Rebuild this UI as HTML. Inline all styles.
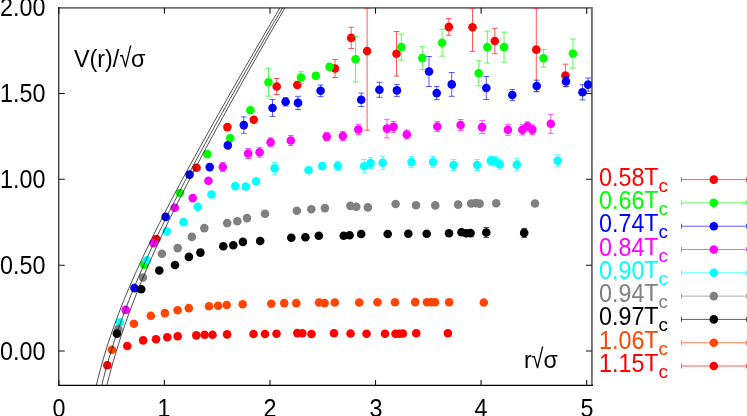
<!DOCTYPE html>
<html><head><meta charset="utf-8"><title>V(r)</title>
<style>
html,body{margin:0;padding:0;background:#fff;}
body{width:747px;height:416px;overflow:hidden;position:relative;font-family:"Liberation Sans",sans-serif;}
svg{position:absolute;left:0;top:0;}
.t{will-change:transform;position:absolute;white-space:nowrap;font-size:23.3px;line-height:1;color:#000;}
.rt{display:inline-block;transform:scale(0.93,1.17);transform-origin:50% 84.6%;margin:0 -0.7px 0 -0.5px;}
.d{display:inline-block;transform:scaleY(1.08);transform-origin:0 2.5px;}
.t sub{font-size:18.9px;vertical-align:baseline;position:relative;top:6.8px;line-height:0;}
</style></head><body>
<svg width="747" height="416" viewBox="0 0 747 416">
<defs><clipPath id="pc"><rect x="58.78" y="7.85" width="533.12" height="377.55"/></clipPath></defs>
<g fill="none" stroke-linecap="butt">
<path d="M58.18 7.85 H591.9 V386" stroke="#707070" stroke-width="1.9"/>
<path d="M58.78 6.95 V386" stroke="#000" stroke-width="1.05"/><path d="M58.28 385.4 H592.85" stroke="#000" stroke-width="1.25"/>
<path d="M58.8 385.4 v-5.4 M58.8 7.85 v5.8 M164.4 385.4 v-5.4 M164.4 7.85 v5.8 M270.0 385.4 v-5.4 M270.0 7.85 v5.8 M375.5 385.4 v-5.4 M375.5 7.85 v5.8 M481.1 385.4 v-5.4 M481.1 7.85 v5.8 M586.7 385.4 v-5.4 M586.7 7.85 v5.8 M58.78 351.0 h6 M591.9 351.0 h-6 M58.78 265.2 h6 M591.9 265.2 h-6 M58.78 179.3 h6 M591.9 179.3 h-6 M58.78 93.5 h6 M591.9 93.5 h-6" stroke="#111" stroke-width="1.1"/>
</g>
<g clip-path="url(#pc)">
<g fill="#ff0000" stroke="none"><path d="M276.7 78.5V94.5M273.8 78.5h5.8M273.8 94.5h5.8M297.3 82.5V87.5M294.4 82.5h5.8M294.4 87.5h5.8M335.0 59.5V77.5M332.1 59.5h5.8M332.1 77.5h5.8M351.2 27.3V48.5M348.3 27.3h5.8M348.3 48.5h5.8M367.1 8.2V130.2M364.2 8.2h5.8M364.2 130.2h5.8M396.5 31.5V76.1M393.6 31.5h5.8M393.6 76.1h5.8M448.8 18.6V35.2M445.9 18.6h5.8M445.9 35.2h5.8M472.5 8.2V51.3M469.6 8.2h5.8M469.6 51.3h5.8M494.8 28.3V53.7M491.9 28.3h5.8M491.9 53.7h5.8M536.3 8.2V91.3M533.4 8.2h5.8M533.4 91.3h5.8M565.4 64.2V86.8M562.5 64.2h5.8M562.5 86.8h5.8" fill="none" stroke="#ff0000" stroke-width="0.65"/><circle cx="156.3" cy="239.0" r="4.3"/><circle cx="196.5" cy="167.7" r="4.3"/><circle cx="227.4" cy="127.1" r="4.3"/><circle cx="253.8" cy="119.8" r="4.3"/><circle cx="276.7" cy="86.5" r="4.3"/><circle cx="297.3" cy="85.0" r="4.3"/><circle cx="335.0" cy="68.5" r="4.3"/><circle cx="351.2" cy="37.9" r="4.3"/><circle cx="367.1" cy="51.0" r="4.3"/><circle cx="396.5" cy="53.8" r="4.3"/><circle cx="448.8" cy="26.9" r="4.3"/><circle cx="472.5" cy="27.3" r="4.3"/><circle cx="494.8" cy="41.0" r="4.3"/><circle cx="536.3" cy="49.6" r="4.3"/><circle cx="565.4" cy="75.5" r="4.3"/></g>
<g fill="#00ff00" stroke="none"><path d="M268.5 68.2V96.2M265.6 68.2h5.8M265.6 96.2h5.8M301.0 71.7V83.5M298.1 71.7h5.8M298.1 83.5h5.8M315.8 72.8V78.8M312.9 72.8h5.8M312.9 78.8h5.8M329.6 63.9V69.9M326.7 63.9h5.8M326.7 69.9h5.8M355.6 36.4V82.0M352.7 36.4h5.8M352.7 82.0h5.8M401.3 34.1V60.1M398.4 34.1h5.8M398.4 60.1h5.8M422.3 46.8V69.4M419.4 46.8h5.8M419.4 69.4h5.8M442.1 29.2V56.2M439.2 29.2h5.8M439.2 56.2h5.8M478.7 60.8V85.8M475.8 60.8h5.8M475.8 85.8h5.8M487.3 31.1V63.1M484.4 31.1h5.8M484.4 63.1h5.8M504.0 32.1V62.1M501.1 32.1h5.8M501.1 62.1h5.8M543.5 49.6V67.0M540.6 49.6h5.8M540.6 67.0h5.8M572.9 39.0V68.0M570.0 39.0h5.8M570.0 68.0h5.8" fill="none" stroke="#00ff00" stroke-width="0.65"/><circle cx="144.2" cy="264.6" r="4.3"/><circle cx="179.9" cy="193.0" r="4.3"/><circle cx="207.3" cy="154.1" r="4.3"/><circle cx="230.2" cy="138.3" r="4.3"/><circle cx="250.4" cy="110.2" r="4.3"/><circle cx="268.5" cy="82.2" r="4.3"/><circle cx="301.0" cy="77.6" r="4.3"/><circle cx="315.8" cy="75.8" r="4.3"/><circle cx="329.6" cy="66.9" r="4.3"/><circle cx="355.6" cy="59.2" r="4.3"/><circle cx="401.3" cy="47.1" r="4.3"/><circle cx="422.3" cy="58.1" r="4.3"/><circle cx="442.1" cy="42.7" r="4.3"/><circle cx="478.7" cy="73.3" r="4.3"/><circle cx="487.3" cy="47.1" r="4.3"/><circle cx="504.0" cy="47.1" r="4.3"/><circle cx="543.5" cy="58.3" r="4.3"/><circle cx="572.9" cy="53.5" r="4.3"/></g>
<g fill="#0000ff" stroke="none"><path d="M243.8 116.9V133.3M240.9 116.9h5.8M240.9 133.3h5.8M272.5 99.6V116.4M269.6 99.6h5.8M269.6 116.4h5.8M285.6 97.6V106.0M282.7 97.6h5.8M282.7 106.0h5.8M298.0 96.3V109.5M295.1 96.3h5.8M295.1 109.5h5.8M320.6 85.0V96.6M317.7 85.0h5.8M317.7 96.6h5.8M361.2 93.1V106.5M358.3 93.1h5.8M358.3 106.5h5.8M379.4 82.3V97.3M376.5 82.3h5.8M376.5 97.3h5.8M396.9 84.4V96.4M394.0 84.4h5.8M394.0 96.4h5.8M429.0 56.5V86.5M426.1 56.5h5.8M426.1 86.5h5.8M436.7 86.6V99.6M433.8 86.6h5.8M433.8 99.6h5.8M451.7 72.5V96.3M448.8 72.5h5.8M448.8 96.3h5.8M486.3 76.5V99.5M483.4 76.5h5.8M483.4 99.5h5.8M512.3 89.4V100.6M509.4 89.4h5.8M509.4 100.6h5.8M536.7 80.2V91.8M533.8 80.2h5.8M533.8 91.8h5.8M566.0 76.5V86.5M563.1 76.5h5.8M563.1 86.5h5.8M582.5 84.7V99.9M579.6 84.7h5.8M579.6 99.9h5.8M588.1 78.0V91.2M585.2 78.0h5.8M585.2 91.2h5.8" fill="none" stroke="#0000ff" stroke-width="0.65"/><circle cx="134.4" cy="288.1" r="4.3"/><circle cx="165.6" cy="216.9" r="4.3"/><circle cx="189.6" cy="174.6" r="4.3"/><circle cx="209.7" cy="167.1" r="4.3"/><circle cx="227.8" cy="145.4" r="4.3"/><circle cx="243.8" cy="125.1" r="4.3"/><circle cx="272.5" cy="108.0" r="4.3"/><circle cx="285.6" cy="101.8" r="4.3"/><circle cx="298.0" cy="102.9" r="4.3"/><circle cx="320.6" cy="90.8" r="4.3"/><circle cx="361.2" cy="99.8" r="4.3"/><circle cx="379.4" cy="89.8" r="4.3"/><circle cx="396.9" cy="90.4" r="4.3"/><circle cx="429.0" cy="71.5" r="4.3"/><circle cx="436.7" cy="93.1" r="4.3"/><circle cx="451.7" cy="84.4" r="4.3"/><circle cx="486.3" cy="88.0" r="4.3"/><circle cx="512.3" cy="95.0" r="4.3"/><circle cx="536.7" cy="86.0" r="4.3"/><circle cx="566.0" cy="81.5" r="4.3"/><circle cx="582.5" cy="92.3" r="4.3"/><circle cx="588.1" cy="84.6" r="4.3"/></g>
<g fill="#ff00ff" stroke="none"><path d="M222.8 162.5V171.5M219.9 162.5h5.8M219.9 171.5h5.8M248.1 148.5V158.5M245.2 148.5h5.8M245.2 158.5h5.8M259.6 147.3V157.3M256.7 147.3h5.8M256.7 157.3h5.8M270.6 137.8V146.8M267.7 137.8h5.8M267.7 146.8h5.8M290.8 135.5V145.5M287.9 135.5h5.8M287.9 145.5h5.8M326.7 132.6V140.6M323.8 132.6h5.8M323.8 140.6h5.8M342.8 131.5V140.5M339.9 131.5h5.8M339.9 140.5h5.8M358.3 124.3V134.7M355.4 124.3h5.8M355.4 134.7h5.8M386.9 119.3V137.9M384.0 119.3h5.8M384.0 137.9h5.8M393.5 121.4V132.4M390.6 121.4h5.8M390.6 132.4h5.8M406.8 130.0V139.0M403.9 130.0h5.8M403.9 139.0h5.8M437.3 121.5V131.5M434.4 121.5h5.8M434.4 131.5h5.8M460.6 119.5V130.5M457.7 119.5h5.8M457.7 130.5h5.8M482.1 120.6V133.6M479.2 120.6h5.8M479.2 133.6h5.8M507.9 124.3V135.3M505.0 124.3h5.8M505.0 135.3h5.8M522.3 124.8V134.8M519.4 124.8h5.8M519.4 134.8h5.8M527.5 121.8V130.8M524.6 121.8h5.8M524.6 130.8h5.8M532.3 124.8V134.4M529.4 124.8h5.8M529.4 134.4h5.8M550.8 114.3V133.3M547.9 114.3h5.8M547.9 133.3h5.8" fill="none" stroke="#ff00ff" stroke-width="0.65"/><circle cx="125.6" cy="309.9" r="4.3"/><circle cx="153.5" cy="243.1" r="4.3"/><circle cx="174.8" cy="207.7" r="4.3"/><circle cx="192.7" cy="198.1" r="4.3"/><circle cx="208.4" cy="180.7" r="4.3"/><circle cx="222.8" cy="167.0" r="4.3"/><circle cx="248.1" cy="153.5" r="4.3"/><circle cx="259.6" cy="152.3" r="4.3"/><circle cx="270.6" cy="142.3" r="4.3"/><circle cx="290.8" cy="140.5" r="4.3"/><circle cx="326.7" cy="136.6" r="4.3"/><circle cx="342.8" cy="136.0" r="4.3"/><circle cx="358.3" cy="129.5" r="4.3"/><circle cx="386.9" cy="128.6" r="4.3"/><circle cx="393.5" cy="126.9" r="4.3"/><circle cx="406.8" cy="134.5" r="4.3"/><circle cx="437.3" cy="126.5" r="4.3"/><circle cx="460.6" cy="125.0" r="4.3"/><circle cx="482.1" cy="127.1" r="4.3"/><circle cx="507.9" cy="129.8" r="4.3"/><circle cx="522.3" cy="129.8" r="4.3"/><circle cx="527.5" cy="126.3" r="4.3"/><circle cx="532.3" cy="129.6" r="4.3"/><circle cx="550.8" cy="123.8" r="4.3"/></g>
<g fill="#00ffff" stroke="none"><path d="M274.6 162.3V174.3M271.7 162.3h5.8M271.7 174.3h5.8M308.5 167.2V173.2M305.6 167.2h5.8M305.6 173.2h5.8M322.3 163.1V169.1M319.4 163.1h5.8M319.4 169.1h5.8M337.7 161.3V170.7M334.8 161.3h5.8M334.8 170.7h5.8M364.2 159.5V172.9M361.3 159.5h5.8M361.3 172.9h5.8M370.6 157.6V168.6M367.7 157.6h5.8M367.7 168.6h5.8M382.7 156.0V169.4M379.8 156.0h5.8M379.8 169.4h5.8M411.5 156.6V167.6M408.6 156.6h5.8M408.6 167.6h5.8M433.0 156.6V167.6M430.1 156.6h5.8M430.1 167.6h5.8M453.5 159.5V170.5M450.6 159.5h5.8M450.6 170.5h5.8M477.1 159.5V170.5M474.2 159.5h5.8M474.2 170.5h5.8M490.8 156.3V165.3M487.9 156.3h5.8M487.9 165.3h5.8M495.0 156.5V166.1M492.1 156.5h5.8M492.1 166.1h5.8M499.8 159.2V169.2M496.9 159.2h5.8M496.9 169.2h5.8M516.8 158.1V171.1M513.9 158.1h5.8M513.9 171.1h5.8M557.7 154.8V166.8M554.8 154.8h5.8M554.8 166.8h5.8" fill="none" stroke="#00ffff" stroke-width="0.65"/><circle cx="119.7" cy="322.2" r="4.3"/><circle cx="146.9" cy="260.2" r="4.3"/><circle cx="166.7" cy="231.3" r="4.3"/><circle cx="183.5" cy="222.1" r="4.3"/><circle cx="197.7" cy="206.9" r="4.3"/><circle cx="211.5" cy="194.5" r="4.3"/><circle cx="235.3" cy="186.1" r="4.3"/><circle cx="245.8" cy="186.5" r="4.3"/><circle cx="256.0" cy="181.3" r="4.3"/><circle cx="274.6" cy="168.3" r="4.3"/><circle cx="308.5" cy="170.2" r="4.3"/><circle cx="322.3" cy="166.1" r="4.3"/><circle cx="337.7" cy="166.0" r="4.3"/><circle cx="364.2" cy="166.2" r="4.3"/><circle cx="370.6" cy="163.1" r="4.3"/><circle cx="382.7" cy="162.7" r="4.3"/><circle cx="411.5" cy="162.1" r="4.3"/><circle cx="433.0" cy="162.1" r="4.3"/><circle cx="453.5" cy="165.0" r="4.3"/><circle cx="477.1" cy="165.0" r="4.3"/><circle cx="490.8" cy="160.8" r="4.3"/><circle cx="495.0" cy="161.3" r="4.3"/><circle cx="499.8" cy="164.2" r="4.3"/><circle cx="516.8" cy="164.6" r="4.3"/><circle cx="557.7" cy="160.8" r="4.3"/></g>
<g fill="#808080" stroke="none"><circle cx="118.3" cy="329.1" r="4.3"/><circle cx="142.9" cy="277.5" r="4.3"/><circle cx="161.9" cy="253.8" r="4.3"/><circle cx="177.7" cy="248.1" r="4.3"/><circle cx="191.9" cy="236.9" r="4.3"/><circle cx="204.3" cy="228.1" r="4.3"/><circle cx="227.2" cy="223.1" r="4.3"/><circle cx="237.3" cy="221.2" r="4.3"/><circle cx="247.0" cy="218.1" r="4.3"/><circle cx="265.0" cy="213.8" r="4.3"/><circle cx="296.8" cy="210.8" r="4.3"/><circle cx="311.3" cy="209.2" r="4.3"/><circle cx="324.9" cy="208.1" r="4.3"/><circle cx="350.4" cy="205.9" r="4.3"/><circle cx="356.3" cy="206.7" r="4.3"/><circle cx="367.9" cy="207.4" r="4.3"/><circle cx="395.6" cy="204.0" r="4.3"/><circle cx="416.0" cy="205.3" r="4.3"/><circle cx="435.3" cy="205.4" r="4.3"/><circle cx="458.1" cy="204.6" r="4.3"/><circle cx="471.1" cy="203.5" r="4.3"/><circle cx="475.8" cy="203.1" r="4.3"/><circle cx="479.6" cy="203.6" r="4.3"/><circle cx="496.2" cy="203.2" r="4.3"/><circle cx="535.0" cy="203.5" r="4.3"/></g>
<g fill="#000000" stroke="none"><path d="M486.3 227.5V237.5M483.4 227.5h5.8M483.4 237.5h5.8M524.2 228.3V237.5M521.3 228.3h5.8M521.3 237.5h5.8" fill="none" stroke="#000000" stroke-width="0.65"/><circle cx="116.9" cy="333.6" r="4.3"/><circle cx="141.2" cy="289.2" r="4.3"/><circle cx="159.3" cy="270.5" r="4.3"/><circle cx="175.0" cy="265.0" r="4.3"/><circle cx="188.9" cy="256.9" r="4.3"/><circle cx="200.4" cy="252.6" r="4.3"/><circle cx="223.3" cy="246.2" r="4.3"/><circle cx="233.3" cy="245.2" r="4.3"/><circle cx="242.9" cy="241.9" r="4.3"/><circle cx="260.2" cy="241.0" r="4.3"/><circle cx="291.3" cy="237.7" r="4.3"/><circle cx="305.4" cy="237.3" r="4.3"/><circle cx="318.8" cy="235.8" r="4.3"/><circle cx="343.7" cy="235.8" r="4.3"/><circle cx="349.6" cy="235.2" r="4.3"/><circle cx="361.2" cy="234.0" r="4.3"/><circle cx="387.7" cy="234.0" r="4.3"/><circle cx="408.3" cy="233.8" r="4.3"/><circle cx="426.7" cy="233.7" r="4.3"/><circle cx="449.0" cy="233.3" r="4.3"/><circle cx="461.5" cy="232.3" r="4.3"/><circle cx="466.2" cy="233.3" r="4.3"/><circle cx="470.6" cy="233.1" r="4.3"/><circle cx="486.3" cy="232.5" r="4.3"/><circle cx="524.2" cy="232.9" r="4.3"/></g>
<g fill="#ff4500" stroke="none"><circle cx="111.9" cy="349.8" r="4.3"/><circle cx="133.9" cy="323.7" r="4.3"/><circle cx="150.8" cy="315.7" r="4.3"/><circle cx="164.9" cy="313.1" r="4.3"/><circle cx="177.6" cy="310.2" r="4.3"/><circle cx="188.8" cy="308.1" r="4.3"/><circle cx="209.0" cy="306.2" r="4.3"/><circle cx="218.1" cy="305.8" r="4.3"/><circle cx="226.7" cy="305.0" r="4.3"/><circle cx="242.7" cy="304.2" r="4.3"/><circle cx="271.3" cy="303.7" r="4.3"/><circle cx="284.2" cy="303.1" r="4.3"/><circle cx="296.3" cy="303.1" r="4.3"/><circle cx="319.0" cy="302.5" r="4.3"/><circle cx="324.6" cy="303.1" r="4.3"/><circle cx="334.8" cy="302.5" r="4.3"/><circle cx="359.2" cy="302.5" r="4.3"/><circle cx="377.5" cy="302.3" r="4.3"/><circle cx="395.0" cy="302.3" r="4.3"/><circle cx="415.2" cy="302.1" r="4.3"/><circle cx="426.9" cy="302.3" r="4.3"/><circle cx="431.2" cy="302.3" r="4.3"/><circle cx="435.0" cy="302.3" r="4.3"/><circle cx="449.2" cy="302.3" r="4.3"/><circle cx="483.8" cy="302.5" r="4.3"/></g>
<g fill="#ff0000" stroke="none"><circle cx="107.3" cy="365.2" r="4.3"/><circle cx="127.3" cy="346.0" r="4.3"/><circle cx="143.1" cy="340.4" r="4.3"/><circle cx="156.0" cy="339.2" r="4.3"/><circle cx="167.3" cy="337.3" r="4.3"/><circle cx="177.7" cy="336.2" r="4.3"/><circle cx="196.3" cy="335.4" r="4.3"/><circle cx="204.6" cy="334.8" r="4.3"/><circle cx="212.5" cy="334.8" r="4.3"/><circle cx="227.1" cy="334.4" r="4.3"/><circle cx="253.5" cy="334.0" r="4.3"/><circle cx="265.0" cy="334.0" r="4.3"/><circle cx="276.5" cy="333.7" r="4.3"/><circle cx="297.3" cy="333.1" r="4.3"/><circle cx="302.3" cy="333.3" r="4.3"/><circle cx="311.5" cy="334.0" r="4.3"/><circle cx="334.0" cy="333.3" r="4.3"/><circle cx="350.6" cy="333.5" r="4.3"/><circle cx="366.5" cy="333.7" r="4.3"/><circle cx="385.0" cy="333.7" r="4.3"/><circle cx="395.5" cy="333.8" r="4.3"/><circle cx="399.3" cy="333.8" r="4.3"/><circle cx="402.9" cy="333.5" r="4.3"/><circle cx="416.2" cy="333.3" r="4.3"/><circle cx="447.9" cy="333.3" r="4.3"/></g>
<path d="M90.68 411.09 L93.22 398.72 L95.76 387.50 L98.30 377.19 L100.84 367.63 L103.38 358.68 L105.92 350.26 L108.46 342.28 L111.00 334.68 L113.54 327.39 L116.08 320.39 L118.62 313.63 L121.16 307.09 L123.70 300.73 L126.24 294.54 L128.78 288.50 L131.32 282.60 L133.86 276.81 L136.40 271.13 L138.94 265.55 L141.47 260.06 L144.01 254.65 L146.55 249.31 L149.09 244.04 L151.63 238.84 L154.17 233.69 L156.71 228.59 L159.25 223.54 L161.79 218.53 L164.33 213.57 L166.87 208.65 L169.41 203.76 L171.95 198.91 L174.49 194.08 L177.03 189.29 L179.57 184.53 L182.11 179.79 L184.65 175.07 L187.19 170.38 L189.73 165.71 L192.27 161.06 L194.81 156.42 L197.35 151.81 L199.89 147.21 L202.43 142.63 L204.97 138.07 L207.51 133.52 L210.05 128.98 L212.59 124.46 L215.13 119.95 L217.67 115.45 L220.21 110.96 L222.75 106.48 L225.29 102.02 L227.83 97.56 L230.37 93.11 L232.91 88.67 L235.45 84.25 L237.99 79.82 L240.53 75.41 L243.06 71.00 L245.60 66.61 L248.14 62.21 L250.68 57.83 L253.22 53.45 L255.76 49.08 L258.30 44.71 L260.84 40.35 L263.38 36.00 L265.92 31.65 L268.46 27.30 L271.00 22.96 L273.54 18.63 L276.08 14.30 L278.62 9.97 L281.16 5.65 L283.70 1.33 L286.24 -2.98 L288.78 -7.29 L291.32 -11.60" fill="none" stroke="#000" stroke-width="0.7"/>
<path d="M90.68 439.97 L93.22 425.30 L95.76 412.09 L98.30 400.07 L100.84 389.00 L103.38 378.73 L105.92 369.13 L108.46 360.09 L111.00 351.53 L113.54 343.39 L116.08 335.61 L118.62 328.14 L121.16 320.95 L123.70 314.00 L126.24 307.26 L128.78 300.72 L131.32 294.35 L133.86 288.13 L136.40 282.05 L138.94 276.10 L141.47 270.26 L144.01 264.52 L146.55 258.88 L149.09 253.33 L151.63 247.85 L154.17 242.45 L156.71 237.12 L159.25 231.85 L161.79 226.63 L164.33 221.47 L166.87 216.36 L169.41 211.30 L171.95 206.28 L174.49 201.30 L177.03 196.36 L179.57 191.45 L182.11 186.57 L184.65 181.73 L187.19 176.92 L189.73 172.13 L192.27 167.37 L194.81 162.64 L197.35 157.93 L199.89 153.24 L202.43 148.57 L204.97 143.92 L207.51 139.29 L210.05 134.67 L212.59 130.08 L215.13 125.50 L217.67 120.93 L220.21 116.38 L222.75 111.85 L225.29 107.32 L227.83 102.81 L230.37 98.31 L232.91 93.83 L235.45 89.35 L237.99 84.89 L240.53 80.43 L243.06 75.99 L245.60 71.55 L248.14 67.12 L250.68 62.71 L253.22 58.30 L255.76 53.89 L258.30 49.50 L260.84 45.11 L263.38 40.73 L265.92 36.36 L268.46 31.99 L271.00 27.63 L273.54 23.28 L276.08 18.93 L278.62 14.59 L281.16 10.25 L283.70 5.92 L286.24 1.59 L288.78 -2.73 L291.32 -7.05" fill="none" stroke="#000" stroke-width="0.7"/>
<path d="M90.68 470.11 L93.22 453.13 L95.76 437.94 L98.30 424.18 L100.84 411.60 L103.38 399.98 L105.92 389.18 L108.46 379.07 L111.00 369.55 L113.54 360.53 L116.08 351.96 L118.62 343.76 L121.16 335.90 L123.70 328.33 L126.24 321.03 L128.78 313.96 L131.32 307.10 L133.86 300.43 L136.40 293.92 L138.94 287.57 L141.47 281.36 L144.01 275.28 L146.55 269.31 L149.09 263.45 L151.63 257.68 L154.17 252.00 L156.71 246.41 L159.25 240.89 L161.79 235.44 L164.33 230.06 L166.87 224.74 L169.41 219.47 L171.95 214.26 L174.49 209.09 L177.03 203.98 L179.57 198.90 L182.11 193.87 L184.65 188.87 L187.19 183.91 L189.73 178.99 L192.27 174.09 L194.81 169.23 L197.35 164.39 L199.89 159.58 L202.43 154.80 L204.97 150.04 L207.51 145.30 L210.05 140.58 L212.59 135.89 L215.13 131.21 L217.67 126.56 L220.21 121.92 L222.75 117.30 L225.29 112.69 L227.83 108.10 L230.37 103.52 L232.91 98.96 L235.45 94.41 L237.99 89.88 L240.53 85.36 L243.06 80.84 L245.60 76.35 L248.14 71.86 L250.68 67.38 L253.22 62.91 L255.76 58.45 L258.30 54.00 L260.84 49.56 L263.38 45.13 L265.92 40.71 L268.46 36.29 L271.00 31.88 L273.54 27.48 L276.08 23.09 L278.62 18.70 L281.16 14.33 L283.70 9.95 L286.24 5.59 L288.78 1.23 L291.32 -3.13" fill="none" stroke="#000" stroke-width="0.7"/>
</g>
<path d="M681.5 179.6H746.5M681.5 177.1v5M746.5 177.1v5" fill="none" stroke="#ff0000" stroke-width="0.65"/><circle cx="713.8" cy="179.6" r="4.3" fill="#ff0000"/>
<path d="M681.5 202.9H746.5M681.5 200.4v5M746.5 200.4v5" fill="none" stroke="#00ff00" stroke-width="0.65"/><circle cx="713.8" cy="202.9" r="4.3" fill="#00ff00"/>
<path d="M681.5 226.2H746.5M681.5 223.7v5M746.5 223.7v5" fill="none" stroke="#0000ff" stroke-width="0.65"/><circle cx="713.8" cy="226.2" r="4.3" fill="#0000ff"/>
<path d="M681.5 249.5H746.5M681.5 247.0v5M746.5 247.0v5" fill="none" stroke="#ff00ff" stroke-width="0.65"/><circle cx="713.8" cy="249.5" r="4.3" fill="#ff00ff"/>
<path d="M681.5 272.8H746.5M681.5 270.3v5M746.5 270.3v5" fill="none" stroke="#00ffff" stroke-width="0.65"/><circle cx="713.8" cy="272.8" r="4.3" fill="#00ffff"/>
<path d="M681.5 296.1H746.5M681.5 293.6v5M746.5 293.6v5" fill="none" stroke="#808080" stroke-width="0.65"/><circle cx="713.8" cy="296.1" r="4.3" fill="#808080"/>
<path d="M681.5 319.4H746.5M681.5 316.9v5M746.5 316.9v5" fill="none" stroke="#000000" stroke-width="0.65"/><circle cx="713.8" cy="319.4" r="4.3" fill="#000000"/>
<path d="M681.5 342.7H746.5M681.5 340.2v5M746.5 340.2v5" fill="none" stroke="#ff4500" stroke-width="0.65"/><circle cx="713.8" cy="342.7" r="4.3" fill="#ff4500"/>
<path d="M681.5 366.0H746.5M681.5 363.5v5M746.5 363.5v5" fill="none" stroke="#ff0000" stroke-width="0.65"/><circle cx="713.8" cy="366.0" r="4.3" fill="#ff0000"/>
</svg>
<div class="t" style="left:599.3px;top:165.6px;color:#ff0000"><span class="d">0.58</span>T<sub>c</sub></div>
<div class="t" style="left:599.3px;top:188.9px;color:#00ff00"><span class="d">0.66</span>T<sub>c</sub></div>
<div class="t" style="left:599.3px;top:212.2px;color:#0000ff"><span class="d">0.74</span>T<sub>c</sub></div>
<div class="t" style="left:599.3px;top:235.5px;color:#ff00ff"><span class="d">0.84</span>T<sub>c</sub></div>
<div class="t" style="left:599.3px;top:258.8px;color:#00ffff"><span class="d">0.90</span>T<sub>c</sub></div>
<div class="t" style="left:599.3px;top:282.1px;color:#808080"><span class="d">0.94</span>T<sub>c</sub></div>
<div class="t" style="left:599.3px;top:305.4px;color:#000000"><span class="d">0.97</span>T<sub>c</sub></div>
<div class="t" style="left:599.3px;top:328.7px;color:#ff4500"><span class="d">1.06</span>T<sub>c</sub></div>
<div class="t" style="left:599.3px;top:352.0px;color:#ff0000"><span class="d">1.15</span>T<sub>c</sub></div>
<div class="t" style="right:701.9px;top:339.7px"><span class="d">0.00</span></div>
<div class="t" style="right:701.9px;top:253.9px"><span class="d">0.50</span></div>
<div class="t" style="right:701.9px;top:168.1px"><span class="d">1.00</span></div>
<div class="t" style="right:701.9px;top:82.2px"><span class="d">1.50</span></div>
<div class="t" style="right:701.9px;top:-3.6px"><span class="d">2.00</span></div>
<div class="t" style="left:38.8px;top:397.1px;width:40px;text-align:center"><span class="d">0</span></div>
<div class="t" style="left:144.4px;top:397.1px;width:40px;text-align:center"><span class="d">1</span></div>
<div class="t" style="left:250.0px;top:397.1px;width:40px;text-align:center"><span class="d">2</span></div>
<div class="t" style="left:355.5px;top:397.1px;width:40px;text-align:center"><span class="d">3</span></div>
<div class="t" style="left:461.1px;top:397.1px;width:40px;text-align:center"><span class="d">4</span></div>
<div class="t" style="left:566.7px;top:397.1px;width:40px;text-align:center"><span class="d">5</span></div>
<div class="t" id="vl" style="left:73.6px;top:48.0px">V(r)/<span class="rt">&#8730;</span>&#963;</div>
<div class="t" id="rl" style="left:524.2px;top:348.9px">r<span class="rt">&#8730;</span>&#963;</div>
</body></html>
